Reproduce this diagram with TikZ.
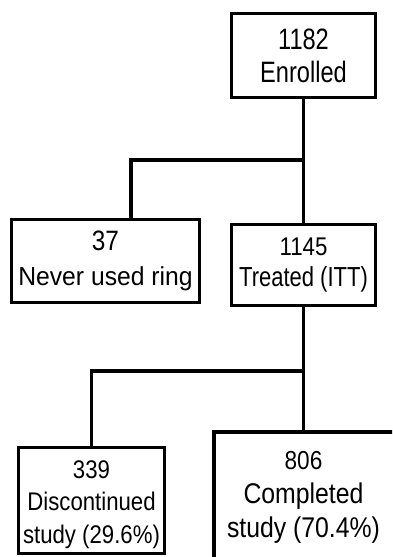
\documentclass[tikz,border=0pt]{standalone}
\usepackage{fontspec}
\setmainfont{Liberation Sans}
\newfontfamily\fA[FakeStretch=0.80]{Liberation Sans}
\newfontfamily\fB[FakeStretch=0.87]{Liberation Sans}
\newfontfamily\fC[FakeStretch=0.95]{Liberation Sans}
\begin{document}
\begin{tikzpicture}[x=1pt,y=-1pt,
  box/.style={draw, line width=3.2pt, inner sep=0pt, align=center},
  conn/.style={line width=3.2pt}]
\useasboundingbox (0,0) rectangle (392,557);
\clip (0,0) rectangle (392,557);
\fill[white] (0,0) rectangle (392,557);
\node[box, minimum width=144pt, minimum height=84pt, font=\fA\fontsize{29.5}{33}\selectfont] (enr) at (303.5,55.5)
  {1182\\Enrolled};
\node[box, minimum width=188pt, minimum height=83pt, font=\fB\fontsize{28}{35}\selectfont] (never) at (105.5,261)
  {37\\\fC\fontsize{26}{35}\selectfont Never used ring};
\node[box, minimum width=144pt, minimum height=81pt, font=\fA\fontsize{27.5}{31}\selectfont] (treat) at (303.5,265)
  {\fB\fontsize{25.6}{31}\selectfont 1145\\Treated (ITT)};
\node[box, minimum width=146pt, minimum height=106pt, font=\fB\fontsize{25.5}{32.5}\selectfont] (disc) at (91.5,500.5)
  {\rule{0pt}{26pt}339\\Discontinued\\study (29.6\%)};
\node[box, draw=none, minimum width=176pt, minimum height=127pt, font=\fB\fontsize{28.5}{34}\selectfont] (comp) at (303.5,497)
  {\fontsize{26}{34}\selectfont 806\\Completed\\study (70.4\%)};
\draw[conn] (comp.south west) -- (comp.north west) -- ([xshift=30pt]comp.north east);
\coordinate (j1) at (303.5,160);
\coordinate (j2) at (303.5,371);
\draw[conn] (enr.south) -- (treat.north);
\draw[conn] (j1) -| ([xshift=25.5pt]never.north);
\draw[conn] (treat.south) -- (treat.south |- comp.north);
\draw[conn] (j2) -| (disc.north);
\end{tikzpicture}
\end{document}
